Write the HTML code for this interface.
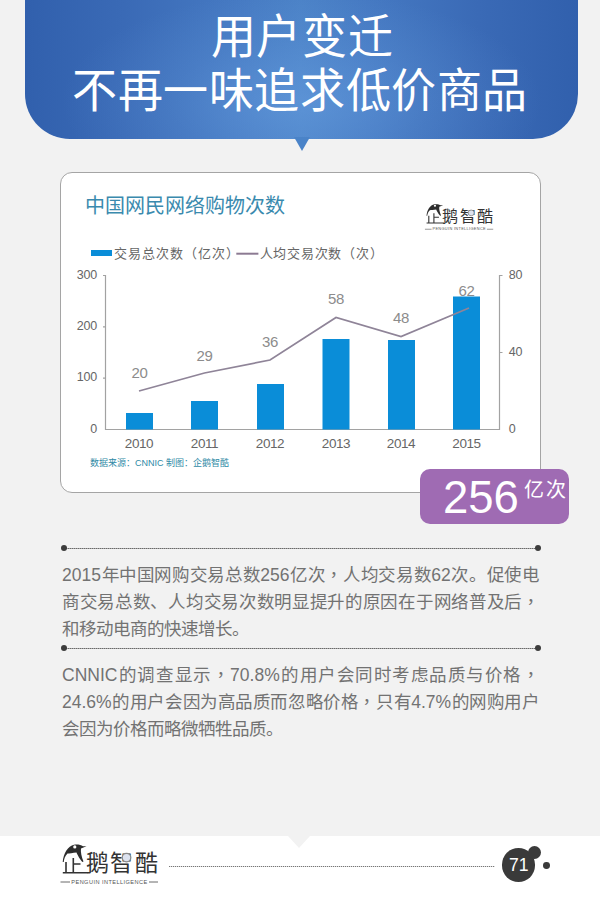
<!DOCTYPE html>
<html lang="zh-CN">
<head>
<meta charset="utf-8">
<style>
*{margin:0;padding:0;box-sizing:border-box;}
html,body{width:600px;height:900px;overflow:hidden;}
body{background:#f2f2f2;font-family:"Liberation Sans",sans-serif;position:relative;text-spacing-trim:space-all;}
svg text{text-spacing-trim:space-all;}
.abs{position:absolute;}
#banner{left:25px;top:-50px;width:553px;height:188.5px;border-radius:0 0 45px 45px;
  background:radial-gradient(ellipse 240px 110px at 50% 80%, rgba(105,160,225,0.55) 0%, rgba(105,160,225,0.2) 55%, rgba(105,160,225,0) 100%),
  linear-gradient(90deg, #3160ad 0%, #3a6ab6 18%, #4579c2 38%, #4b82c7 50%, #4579c2 62%, #3a6ab6 82%, #3160ad 100%);}
#ptr{left:294px;top:137px;width:0;height:0;border-left:8px solid transparent;border-right:8px solid transparent;border-top:14px solid #4a83c8;}
.t1{color:#fff;font-size:45px;letter-spacing:0.6px;line-height:50px;white-space:nowrap;text-align:center;width:600px;left:0;transform:scaleY(1.04);}
#card{left:60px;top:172px;width:481px;height:321px;border:1.5px solid #a5a5a5;border-radius:12px;background:#fff;}
#badge{left:420px;top:469px;width:149px;height:55px;border-radius:10px;background:#9f6bb3;color:#fff;}
.para{left:62px;width:477px;color:#727272;font-size:17.5px;line-height:27px;white-space:nowrap;}
.j{text-align:justify;text-align-last:justify;}

.dl{height:1px;background:repeating-linear-gradient(90deg,#6a6a6a 0 1px,#a8a8a8 1px 2px);}
.dot{width:6px;height:6px;border-radius:50%;background:#3c3c3c;}
#footer{left:0;top:836px;width:600px;height:64px;background:#fff;}
</style>
</head>
<body>
<div id="banner" class="abs"></div>
<div id="ptr" class="abs"></div>
<div class="abs t1" style="top:11.5px;left:2px;">用户变迁</div>
<div class="abs t1" style="top:66px;left:0px;">不再一味追求低价商品</div>

<div id="card" class="abs"></div>

<svg class="abs" style="left:0;top:0" width="600" height="900" viewBox="0 0 600 900">
  <text x="84.7" y="212.7" font-size="20" fill="#3a8aae" font-family="Liberation Sans, sans-serif">中国网民网络购物次数</text>
  <!-- legend -->
  <rect x="91" y="250" width="21" height="6" fill="#0a8dd8"/>
  <text x="113.5" y="258" font-size="13" letter-spacing="1.05" fill="#666" font-family="Liberation Sans, sans-serif">交易总次数（亿次）</text>
  <line x1="236.3" y1="253.7" x2="258.4" y2="253.7" stroke="#8c7a92" stroke-width="2"/>
  <text x="259.5" y="258" font-size="13" letter-spacing="0.8" fill="#666" font-family="Liberation Sans, sans-serif">人均交易次数（次）</text>
  <!-- axes -->
  <g stroke="#a2a2a2" stroke-width="1.2" fill="none">
    <path d="M103 275.5 H105.5 V429.5 H499.5 V275.5 H502.5"/>
    <path d="M103 326.8 H105.5 M103 378.2 H105.5 M499.5 352.5 H502.5"/>
  </g>
  <g font-size="12.5" letter-spacing="-0.3" fill="#666" font-family="Liberation Sans, sans-serif" text-anchor="end">
    <text x="96.8" y="278.7">300</text>
    <text x="96.8" y="330">200</text>
    <text x="96.8" y="381.3">100</text>
    <text x="96.8" y="432.7">0</text>
  </g>
  <g font-size="12.5" letter-spacing="-0.3" fill="#666" font-family="Liberation Sans, sans-serif">
    <text x="508.8" y="278.7">80</text>
    <text x="508.8" y="355.7">40</text>
    <text x="508.8" y="432.7">0</text>
  </g>
  <!-- bars -->
  <g fill="#0a8dd8">
    <rect x="126" y="413" width="27" height="16.5"/>
    <rect x="191" y="401" width="27" height="28.5"/>
    <rect x="257" y="384" width="27" height="45.5"/>
    <rect x="322.5" y="339" width="27" height="90.5"/>
    <rect x="388" y="340" width="27" height="89.5"/>
    <rect x="453" y="296.5" width="27" height="133"/>
  </g>
  <!-- line -->
  <polyline points="139,391 204.5,373 270,360 336,317.5 401,336.5 469,308" fill="none" stroke="#8f8498" stroke-width="1.7"/>
  <g font-size="15" letter-spacing="-0.3" fill="#8c8c8c" font-family="Liberation Sans, sans-serif" text-anchor="middle">
    <text x="139.5" y="378">20</text>
    <text x="204.5" y="360.5">29</text>
    <text x="270" y="346.5">36</text>
    <text x="336" y="304">58</text>
    <text x="401" y="323">48</text>
    <text x="466.5" y="295.5">62</text>
  </g>
  <g font-size="13.5" letter-spacing="-0.4" fill="#666" font-family="Liberation Sans, sans-serif" text-anchor="middle">
    <text x="139" y="448">2010</text>
    <text x="204.5" y="448">2011</text>
    <text x="270" y="448">2012</text>
    <text x="336" y="448">2013</text>
    <text x="401" y="448">2014</text>
    <text x="466.5" y="448">2015</text>
  </g>
  <text x="90" y="466" font-size="9" fill="#2f8aa6" font-family="Liberation Sans, sans-serif">数据来源：CNNIC 制图：企鹅智酷</text>
  <!-- chart logo -->
  <use href="#logo" transform="translate(382.6,-361.7) scale(0.7,0.67)"/>
</svg>

<div id="badge" class="abs">
  <span class="abs" style="left:23px;top:6px;font-size:45.5px;line-height:45px;">256</span>
  <span class="abs" style="left:104px;top:10.5px;font-size:20px;line-height:20px;letter-spacing:1.5px;">亿次</span>
</div>

<!-- separators -->
<div class="abs dl" style="left:64px;top:548px;width:474px;"></div>
<div class="abs dot" style="left:61px;top:545px;"></div>
<div class="abs dot" style="left:534.8px;top:545.2px;"></div>

<div class="abs para" style="top:562px;">
<div class="j">2015年中国网购交易总数256亿次<span class="c" lang="zh-TW">，</span>人均交易数62次。促使电</div>
<div class="j">商交易总数、人均交易次数明显提升的原因在于网络普及后<span class="c" lang="zh-TW">，</span></div>
<div>和移动电商的快速增长。</div>
</div>

<div class="abs dl" style="left:64px;top:648px;width:474px;"></div>
<div class="abs dot" style="left:60.8px;top:645.3px;"></div>
<div class="abs dot" style="left:534.8px;top:645.2px;"></div>

<div class="abs para" style="top:662px;">
<div class="j">CNNIC的调查显示<span class="c" lang="zh-TW">，</span>70.8%的用户会同时考虑品质与价格<span class="c" lang="zh-TW">，</span></div>
<div class="j">24.6%的用户会因为高品质而忽略价格<span class="c" lang="zh-TW">，</span>只有4.7%的网购用户</div>
<div>会因为价格而略微牺牲品质。</div>
</div>

<div id="footer" class="abs"></div>
<div class="abs" style="left:288px;top:836px;width:0;height:0;border-left:11px solid transparent;border-right:11px solid transparent;border-top:12px solid #f2f2f2;"></div>
<svg class="abs" style="left:0;top:0" width="600" height="900" viewBox="0 0 600 900">
 <g id="logo">
  <path d="M62.7,862 C63.5,853 68,846 74,844.7 C78,844.2 81,845 83,846.2 L86.5,846.3 L81,848.6 C80.5,852 81.5,857 83.5,861.5 L82.3,862 C79,858 77,854 76.5,852.5 C73,853 69,853.5 67.5,853.5 C65,856 64,859 63.8,862 Z" fill="#2d2d2d"/>
  <circle cx="74.8" cy="846.9" r="1.6" fill="#fff"/>
  <path d="M66,862 V872.5 M73.3,858 V872.5 M73.3,864 H80.5 M62.8,872.7 H88" stroke="#333" stroke-width="1.6" fill="none"/>
  <text x="85.5" y="871" font-size="23" fill="#333" font-family="Liberation Sans, sans-serif" letter-spacing="1.6">鹅智酷</text>
  <circle cx="126.5" cy="857.6" r="4.3" fill="#dde3f0" stroke="#888" stroke-width="1.2"/>
  <path d="M60.5,882 H70 M149,882 H158" stroke="#444" stroke-width="0.8"/>
  <text x="109.5" y="883.8" font-size="5.6" fill="#555" text-anchor="middle" font-family="Liberation Sans, sans-serif" letter-spacing="0.45">PENGUIN INTELLIGENCE</text>
 </g>
</svg>
<div class="abs dl" style="left:168.5px;top:866px;width:326px;background:repeating-linear-gradient(90deg,#777 0 1px,#ddd 1px 2px);"></div>
<div class="abs" style="left:501.5px;top:848.3px;width:33.5px;height:33.5px;border-radius:50%;background:#3a3a3a;"></div>
<div class="abs" style="left:528.2px;top:845.5px;width:13px;height:13px;border-radius:50%;background:#3a3a3a;"></div>
<div class="abs" style="left:542.8px;top:861.9px;width:6.8px;height:6.8px;border-radius:50%;background:#3a3a3a;"></div>
<div class="abs" style="left:509px;top:854.8px;color:#fff;font-size:17.6px;line-height:20px;">71</div>
</body>
</html>
